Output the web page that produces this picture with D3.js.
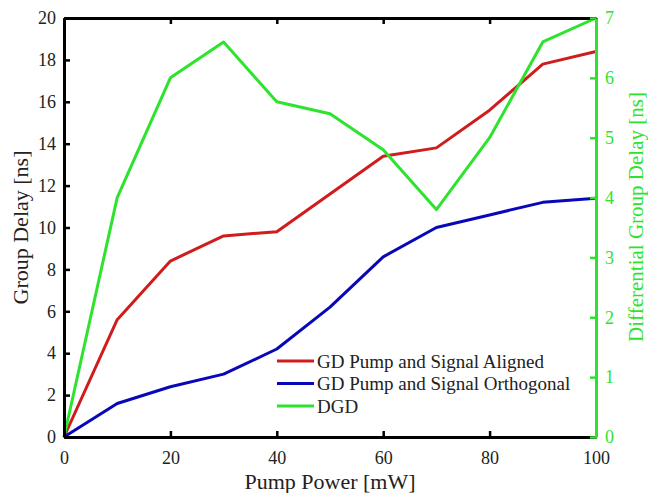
<!DOCTYPE html>
<html><head><meta charset="utf-8">
<script src="https://cdn.jsdelivr.net/npm/d3@7"></script>
<style>
body{margin:0;background:#fff;}
svg, svg text{font-family:"Liberation Serif","Times New Roman",serif !important;}
</style></head>
<body><svg id="c" width="648" height="493" font-family="Liberation Serif"></svg>
<script>
const pumpPower = [0,10,20,30,40,50,60,70,80,90,100];
const gdAligned = [0,5.6,8.4,9.6,9.8,11.6,13.4,13.8,15.6,17.8,18.4];
const gdOrthogonal = [0,1.6,2.4,3.0,4.2,6.2,8.6,10.0,10.6,11.2,11.4];
const dgd = [0,4.0,6.0,6.6,5.6,5.4,4.8,3.8,5.0,6.6,7.0];
const xTicks = [0,20,40,60,80,100];
const yLeftTicks = [0,2,4,6,8,10,12,14,16,18,20];
const yRightTicks = [0,1,2,3,4,5,6,7];
const seriesNames = ["GD Pump and Signal Aligned","GD Pump and Signal Orthogonal","DGD"];

const FONT="Liberation Serif";
const RED="#d01c1c", BLUE="#0808b8", GREEN="#2ee32e";
const L=64,R=596,T=18,B=437;
const svg=d3.select("#c");
const x=d3.scaleLinear().domain([0,100]).range([L,R]);
const yL=d3.scaleLinear().domain([0,20]).range([B,T]);
const yR=d3.scaleLinear().domain([0,7]).range([B,T]);

// lines
const lineL=d3.line().x((d,i)=>x(pumpPower[i])).y(d=>yL(d));
const lineR=d3.line().x((d,i)=>x(pumpPower[i])).y(d=>yR(d));
svg.append("path").attr("d",lineL(gdAligned)).attr("fill","none").attr("stroke",RED).attr("stroke-width",3).attr("stroke-linejoin","round");
svg.append("path").attr("d",lineL(gdOrthogonal)).attr("fill","none").attr("stroke",BLUE).attr("stroke-width",3).attr("stroke-linejoin","round");
svg.append("path").attr("d",lineR(dgd)).attr("fill","none").attr("stroke",GREEN).attr("stroke-width",3).attr("stroke-linejoin","round");

// axes
const fmt=d3.format("d");
const gB=svg.append("g").attr("transform",`translate(0,${B})`).call(d3.axisBottom(x).tickValues(xTicks).tickFormat(fmt).tickSizeInner(-6).tickSizeOuter(0).tickPadding(14));
const gT=svg.append("g").attr("transform",`translate(0,${T})`).call(d3.axisTop(x).tickValues(xTicks).tickSizeInner(-6).tickSizeOuter(0).tickFormat(""));
const gL=svg.append("g").attr("transform",`translate(${L},0)`).call(d3.axisLeft(yL).tickValues(yLeftTicks).tickFormat(fmt).tickSizeInner(-6).tickSizeOuter(0).tickPadding(8));
const gR=svg.append("g").attr("transform",`translate(${R},0)`).call(d3.axisRight(yR).tickValues(yRightTicks).tickFormat(fmt).tickSizeInner(-6).tickSizeOuter(0).tickPadding(9));
[gB,gT,gL,gR].forEach(g=>g.attr("font-family",FONT).attr("font-size",18));
[gB,gT,gL].forEach(g=>{g.selectAll("path").attr("stroke","#000").attr("stroke-width",3);g.selectAll("line").attr("stroke","#000").attr("stroke-width",2.5);g.selectAll("text").attr("fill","#222").attr("font-family",FONT);});
gR.selectAll("path").attr("stroke",GREEN).attr("stroke-width",3);
gR.selectAll("line").attr("stroke",GREEN).attr("stroke-width",2.5);
gR.selectAll("text").attr("fill",GREEN).attr("font-family",FONT);
gB.selectAll("text").attr("dy","0.71em");

// axis labels
function lab(sel,sz){return sel.attr("font-family",FONT).attr("font-size",sz).attr("text-anchor","middle");}
lab(svg.append("text").attr("x",(L+R)/2).attr("y",489),22).attr("fill","#222").text("Pump Power [mW]");
lab(svg.append("text").attr("transform",`translate(28,${(T+B)/2}) rotate(-90)`),22).attr("fill","#222").text("Group Delay [ns]");
lab(svg.append("text").attr("transform",`translate(643,217) rotate(-90)`),21).attr("fill",GREEN).text("Differential Group Delay [ns]");

// legend
const cols=[RED,BLUE,GREEN];
const lg=svg.append("g");
seriesNames.forEach((n,i)=>{
  const yy=361+i*22.5;
  lg.append("line").attr("x1",277).attr("x2",314).attr("y1",yy).attr("y2",yy).attr("stroke",cols[i]).attr("stroke-width",3);
  lg.append("text").attr("x",317).attr("y",yy).attr("dy","0.35em").attr("font-family",FONT).attr("font-size",19).attr("fill","#222").text(n);
});
</script></body></html>
